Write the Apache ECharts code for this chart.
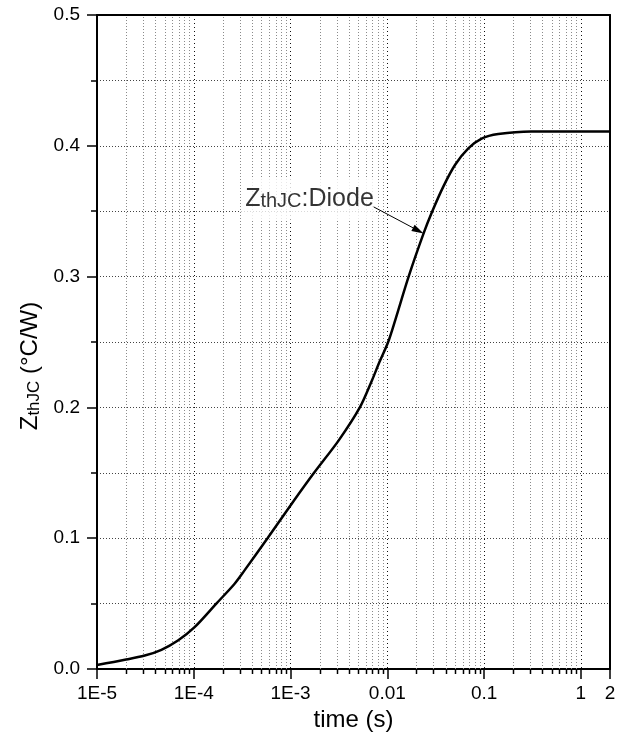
<!DOCTYPE html>
<html><head><meta charset="utf-8">
<script src="https://cdn.jsdelivr.net/npm/echarts@6/dist/echarts.min.js"></script>
<style>html,body{margin:0;padding:0;background:#fff}#c{width:627px;height:740px}</style>
</head><body><div id="c"></div>
<script>
// ---- data ----
const timeS = [1.0e-5, 1.94e-5, 3.12e-5, 4.63e-5, 6.86e-5, 1.02e-4, 1.71e-4, 2.63e-4, 3.33e-4,
  5.78e-4, 1.09e-3, 1.75e-3, 3.16e-3, 5.2e-3, 6.97e-3, 8.17e-3, 1.02e-2, 1.21e-2, 1.66e-2,
  2.37e-2, 2.88e-2, 3.8e-2, 5.02e-2, 6.87e-2, 9.42e-2, 0.14, 0.306, 2];
const zthJC = [0.003, 0.007, 0.0103, 0.0147, 0.0218, 0.032, 0.050, 0.065, 0.0752,
  0.100, 0.129, 0.150, 0.175, 0.200, 0.221, 0.2335, 0.250, 0.267, 0.300,
  0.333, 0.349, 0.369, 0.3855, 0.398, 0.4055, 0.409, 0.411, 0.411];
const xTickValues = [1e-5, 1e-4, 1e-3, 0.01, 0.1, 1, 2];
const xTickLabels = ['1E-5', '1E-4', '1E-3', '0.01', '0.1', '1', '2'];
const minorDecades = [-5, -4, -3, -2, -1];
const minorMultipliers = [2, 3, 4, 5, 6, 7, 8, 9];
const yMin = 0, yMax = 0.5, yStep = 0.1;
const annotationText = ['Z', 'thJC', ':Diode'];
const annotationAnchor = [0.0076, 0.3592];
const arrowFrom = [0.00722, 0.3533];
const arrowTo = [0.0237, 0.333];

// ---- build ----
const L = Math.log10;
const xMin = L(xTickValues[0]);
const xMax = L(xTickValues[xTickValues.length - 1]);
const curve = timeS.map((t, i) => [L(t), zthJC[i]]);
const minorTicks = [];
minorDecades.forEach(d => minorMultipliers.forEach(k => minorTicks.push([L(k) + d, 0])));
const FONT = '"Liberation Sans", Arial, sans-serif';

function xLabel(v) {
  for (let i = 0; i < xTickValues.length; i++) {
    if (Math.abs(L(xTickValues[i]) - v) < 1e-6) return xTickLabels[i];
  }
  return '';
}

const chart = echarts.init(document.getElementById('c'), null, {renderer: 'canvas'});
chart.setOption({
  animation: false,
  backgroundColor: '#fff',
  textStyle: {fontFamily: FONT, color: '#000'},
  grid: {left: 97, right: 17, top: 15, bottom: 71, containLabel: false},
  xAxis: [{
    type: 'value', min: xMin, max: xMax, interval: 1, position: 'bottom',
    name: 'time (s)', nameLocation: 'middle', nameGap: 32,
    nameTextStyle: {fontSize: 24, fontFamily: FONT, color: '#000'},
    axisLine: {show: true, onZero: false, lineStyle: {color: '#000', width: 2}},
    axisTick: {show: true, length: 10, lineStyle: {color: '#000', width: 1.5}},
    axisLabel: {show: true, fontSize: 19, margin: 15, color: '#000', fontFamily: FONT,
      showMinLabel: true, showMaxLabel: true, formatter: xLabel},
    splitLine: {show: true, lineStyle: {color: '#111', type: [1, 3], width: 1}}
  }, {
    type: 'value', min: xMin, max: xMax, position: 'top',
    axisLine: {show: true, onZero: false, lineStyle: {color: '#000', width: 2}},
    axisTick: {show: false}, axisLabel: {show: false}, splitLine: {show: false}
  }],
  yAxis: [{
    type: 'value', min: yMin, max: yMax, interval: yStep, position: 'left',
    name: '{z|Z}{s|thJC}{z| (°C/W)}', nameLocation: 'middle', nameGap: 52,
    nameTextStyle: {fontFamily: FONT, color: '#000', padding: [0, 48, 0, 0],
      rich: {z: {fontSize: 24, fontFamily: FONT, color: '#000', verticalAlign: 'bottom'},
             s: {fontSize: 17, fontFamily: FONT, color: '#000', verticalAlign: 'bottom'}}},
    axisLine: {show: true, onZero: false, lineStyle: {color: '#000', width: 2}},
    axisTick: {show: true, length: 10, lineStyle: {color: '#000', width: 1.5}},
    minorTick: {show: true, splitNumber: 2, length: 6, lineStyle: {color: '#000', width: 1.5}},
    axisLabel: {show: true, fontSize: 19, margin: 17, color: '#000', fontFamily: FONT,
      formatter: v => v.toFixed(1)},
    splitLine: {show: true, lineStyle: {color: '#444', type: [1, 2], width: 1}},
    minorSplitLine: {show: true, lineStyle: {color: '#444', type: [1, 2], width: 1}}
  }, {
    type: 'value', min: yMin, max: yMax, position: 'right',
    axisLine: {show: true, onZero: false, lineStyle: {color: '#000', width: 2}},
    axisTick: {show: false}, axisLabel: {show: false}, splitLine: {show: false}
  }],
  series: [{
    type: 'custom', name: 'minor', xAxisIndex: 0, yAxisIndex: 0, clip: false, silent: true, z: 1,
    data: minorTicks, encode: {x: 0, y: 1},
    renderItem: function (params, api) {
      const x = api.value(0);
      const b = api.coord([x, yMin]);
      const t = api.coord([x, yMax]);
      const px = Math.round(b[0]) + 0.5;
      return {type: 'group', children: [
        {type: 'line', shape: {x1: px, y1: b[1], x2: px, y2: t[1]},
          style: {stroke: '#8a8a8a', lineWidth: 1, lineDash: [1, 2]}},
        {type: 'line', shape: {x1: px, y1: b[1], x2: px, y2: b[1] + 5},
          style: {stroke: '#000', lineWidth: 1.5}}
      ]};
    }
  }, {
    type: 'line', name: 'ZthJC:Diode', data: curve, smooth: 0.3,
    showSymbol: false, z: 5,
    lineStyle: {color: '#000', width: 2.5}, silent: true
  }, {
    type: 'custom', name: 'arrow', clip: false, silent: true, z: 6,
    data: [[L(arrowFrom[0]), arrowFrom[1], L(arrowTo[0]), arrowTo[1]]],
    encode: {x: [0, 2], y: [1, 3]},
    renderItem: function (params, api) {
      const p1 = api.coord([api.value(0), api.value(1)]);
      const p2 = api.coord([api.value(2), api.value(3)]);
      const dx = p2[0] - p1[0], dy = p2[1] - p1[1];
      const len = Math.sqrt(dx * dx + dy * dy);
      const ux = dx / len, uy = dy / len;
      const hl = 12, hw = 3.5;
      const bx = p2[0] - ux * hl, by = p2[1] - uy * hl;
      return {type: 'group', children: [
        {type: 'line', shape: {x1: p1[0], y1: p1[1], x2: bx, y2: by},
          style: {stroke: '#000', lineWidth: 1}},
        {type: 'polygon', shape: {points: [[p2[0], p2[1]],
          [bx - uy * hw, by + ux * hw], [bx + uy * hw, by - ux * hw]]},
          style: {fill: '#000'}}
      ]};
    }
  }, {
    type: 'scatter', name: 'label', data: [[L(annotationAnchor[0]), annotationAnchor[1]]],
    symbolSize: 0, silent: true, z: 4,
    label: {
      show: true, position: 'left', distance: 0,
      backgroundColor: '#fff', padding: [8, 2, 8, 4],
      formatter: '{z|' + annotationText[0] + '}{s|' + annotationText[1] + '}{z|' + annotationText[2] + '}',
      rich: {z: {fontSize: 25, fontFamily: FONT, color: '#000', verticalAlign: 'bottom'},
             s: {fontSize: 20, fontFamily: FONT, color: '#000', verticalAlign: 'bottom'}}
    }
  }]
});
</script></body></html>
